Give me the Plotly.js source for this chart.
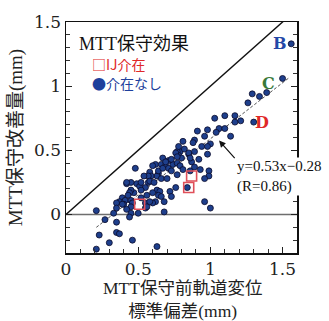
<!DOCTYPE html>
<html>
<head>
<meta charset="utf-8">
<script src="https://cdn.plot.ly/plotly-3.0.1.min.js"></script>
<style>html,body{margin:0;padding:0;background:#fff;}#chart{width:329px;height:321px;}</style>
</head>
<body>
<div id="chart"></div>
<script>
// 介在なし (blue dots)
const blueX = [1.56,1.50,1.39,1.34,1.29,1.26,1.17,1.10,1.03,1.30,1.21,1.17,0.91,0.98,1.06,1.10,1.04,0.96,1.14,0.89,1.00,0.94,0.89,
  0.81,0.88,0.79,0.82,0.77,0.78,0.80,0.85,0.98,0.87,0.62,0.66,0.69,0.71,0.74,0.77,0.79,0.73,0.77,0.81,0.64,0.63,0.66,0.70,
  0.99,0.99,0.96,0.86,0.84,0.76,0.72,0.73,0.63,0.65,0.64,0.66,0.62,0.68,0.96,1.00,0.68,0.67,0.71,0.78,0.60,0.64,0.58,0.59,
  0.57,0.54,0.48,0.42,0.49,0.51,0.52,0.57,0.58,0.47,0.45,0.44,0.60,0.39,0.37,0.41,0.35,0.40,0.45,0.46,0.55,0.55,0.35,0.33,
  0.45,0.44,0.50,0.21,0.27,0.35,0.23,0.35,0.37,0.46,0.30,0.21,0.63,
  0.69,0.73,0.76,0.77,0.85,0.67,0.61,0.55,0.52,0.43,0.39,0.56,0.60,0.58,0.52,0.56,0.45,0.42,0.93,0.98,0.86,0.92,0.89,0.45,0.42];
const blueY = [1.33,1.06,0.95,0.92,0.94,0.87,0.77,0.77,0.75,0.72,0.73,0.72,0.65,0.66,0.67,0.67,0.64,0.61,0.61,0.58,0.55,0.53,0.49,
  0.57,0.56,0.49,0.51,0.49,0.46,0.44,0.47,0.47,0.41,0.39,0.39,0.38,0.36,0.39,0.40,0.38,0.34,0.31,0.35,0.32,0.30,0.28,0.28,
  0.34,0.30,0.28,0.34,0.21,0.21,0.18,0.14,0.19,0.18,0.15,0.14,0.10,0.10,0.10,0.05,0.02,0.44,0.42,0.53,0.38,0.34,0.33,0.30,
  0.30,0.30,0.36,0.24,0.24,0.22,0.25,0.25,0.26,0.17,0.19,0.17,0.09,0.13,0.10,0.11,0.09,0.08,0.11,0.09,0.09,0.05,0.05,0.01,
  0.01,-0.02,0.01,0.03,-0.04,-0.06,-0.16,-0.14,-0.15,-0.20,-0.22,-0.27,-0.25,
  0.41,0.43,0.48,0.45,0.48,0.36,0.25,0.21,0.19,0.15,0.08,0.15,0.17,0.10,0.13,0.06,0.06,0.04,0.35,0.53,0.44,0.43,0.37,0.25,0.25];
// IJ介在 (red squares)
const ijX = [0.51,0.87,0.85];
const ijY = [0.08,0.30,0.21];
// reference lines
const diagX = [0,1.6], diagY = [0,1.6];
const zeroX = [0,1.6], zeroY = [0,0];
const fitX = [0.21,1.55], fitY = [-0.10,1.07];
const tickVals = [0,0.5,1,1.5];
const tickText = ['0','0.5','1','1.5'];

const serif = 'DejaVu Serif, Noto Sans CJK JP, serif';
const jp = 'Liberation Serif, Noto Sans CJK JP, serif';

const traces = [
  {x: zeroX, y: zeroY, mode:'lines', line:{color:'#6e6e6e', width:1.6}, hoverinfo:'skip'},
  {x: diagX, y: diagY, mode:'lines', line:{color:'#111', width:1.4}, hoverinfo:'skip'},
  {x: fitX, y: fitY, mode:'lines', line:{color:'#555', width:1, dash:'3px,2px'}, hoverinfo:'skip'},
  {x: blueX, y: blueY, mode:'markers', marker:{size:6, color:'#1e3f8c', line:{color:'#0a0a2a', width:0.8}}, cliponaxis:false},
  {x: ijX, y: ijY, mode:'markers', marker:{symbol:'square-open', size:10, color:'#e0505a', line:{width:1.6}}}
];

const axisCommon = {
  showgrid:false, zeroline:false, showline:true, linecolor:'#111', linewidth:1.5,
  ticks:'inside', ticklen:6, tickwidth:1, tickcolor:'#222',
  tickmode:'array', tickvals:tickVals, ticktext:tickText,
  tickfont:{family:serif, size:17, color:'#222'},
  minor:{dtick:0.1, tick0:0, ticks:'inside', ticklen:4, tickwidth:1, tickcolor:'#333'}
};

const layout = {
  width:329, height:321,
  margin:{l:66, r:32, t:22, b:68},
  paper_bgcolor:'#fff', plot_bgcolor:'#fff',
  showlegend:false,
  xaxis: Object.assign({}, axisCommon, {range:[0,1.6], mirror:true}),
  yaxis: Object.assign({}, axisCommon, {range:[-0.3,1.5], mirror:'ticks',
    title:{text:'MTT保守改善量(mm)', font:{family:jp, size:19, color:'#222'}, standoff:6}}),
  annotations:[
    {xref:'paper', yref:'paper', x:0.048, y:0.905, xanchor:'left', yanchor:'middle', showarrow:false,
     text:'MTT保守効果', font:{family:jp, size:18, color:'#111'}},
    {xref:'paper', yref:'paper', x:0.104, y:0.818, xanchor:'left', yanchor:'middle', showarrow:false,
     text:'□IJ介在', font:{family:'Noto Sans CJK JP', size:14, color:'#e02828'}},
    {xref:'paper', yref:'paper', x:0.104, y:0.738, xanchor:'left', yanchor:'middle', showarrow:false,
     text:'●介在なし', font:{family:'Noto Sans CJK JP', size:14, color:'#1e3f9c'}},
    {x:1.484, y:1.331, showarrow:false, text:'<b>B</b>', font:{family:serif, size:16, color:'#2448a8'}},
    {x:1.40, y:1.023, showarrow:false, text:'<b>C</b>', font:{family:serif, size:16, color:'#3a7a3a'}},
    {x:1.359, y:0.718, showarrow:false, text:'<b>D</b>', font:{family:serif, size:16, color:'#e02828'}},
    {x:1.06, y:0.576, text:'', showarrow:true, arrowhead:2, arrowsize:1.1, arrowwidth:1.2, arrowcolor:'#111',
     ax:17, ay:19},
    {xref:'paper', yref:'paper', x:(236-66)/231, y:(253-157)/231, xanchor:'left', yanchor:'top', align:'left',
     showarrow:false, bgcolor:'#fff', borderpad:0,
     text:'y=0.53x−0.28<br>(R=0.86)', font:{family:'Liberation Serif', size:15, color:'#111'}},
    {xref:'paper', yref:'paper', x:(182-66)/231, y:(253-277)/231, xanchor:'center', yanchor:'top', showarrow:false,
     borderpad:0, text:'MTT保守前軌道変位<br>標準偏差(mm)', font:{family:jp, size:17.5, color:'#222'}}
  ]
};

Plotly.newPlot('chart', traces, layout, {staticPlot:true, displayModeBar:false});
</script>
</body>
</html>
